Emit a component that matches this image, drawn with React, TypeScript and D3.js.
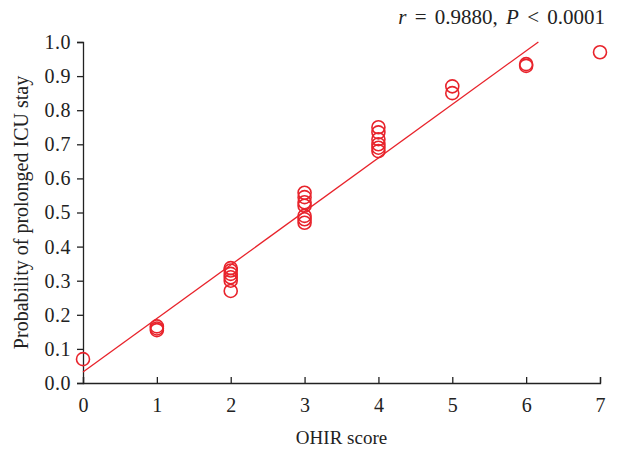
import { useEffect, useRef } from 'react'
import * as d3 from 'd3'

// OHIR score vs probability of prolonged ICU stay
const scores = [0, 1, 1, 1, 2, 2, 2, 2, 2, 2, 3, 3, 3, 3, 3, 3, 3, 4, 4, 4, 4, 4, 4, 5, 5, 6, 6, 7]
const probs = [
  0.07, 0.155, 0.16, 0.166, 0.27, 0.3, 0.31, 0.32, 0.33, 0.337, 0.47, 0.48, 0.49, 0.52, 0.53, 0.545,
  0.558, 0.68, 0.69, 0.7, 0.715, 0.735, 0.75, 0.85, 0.87, 0.93, 0.935, 0.97,
]
const fitIntercept = 0.032
const fitSlope = 0.157
const xTicks = [0, 1, 2, 3, 4, 5, 6, 7]
const yTicks = [0, 0.1, 0.2, 0.3, 0.4, 0.5, 0.6, 0.7, 0.8, 0.9, 1.0]

const RED = '#e8232b'
const FONT = '"Liberation Serif", "Times New Roman", serif'

export default function App() {
  const ref = useRef<SVGSVGElement | null>(null)

  useEffect(() => {
    document.body.style.margin = '0'
    if (!ref.current) return
    const width = 619
    const height = 450
    const margin = { top: 42, right: 19, bottom: 67, left: 83 }

    const svg = d3.select(ref.current)
    svg.selectAll('*').remove()

    const x = d3.scaleLinear().domain([0, 7]).range([margin.left, width - margin.right])
    const y = d3.scaleLinear().domain([0, 1]).range([height - margin.bottom, margin.top])

    // x axis, ticks pointing up into the plot
    const gx = svg
      .append('g')
      .attr('transform', `translate(0,${y(0)})`)
      .call(d3.axisBottom(x).tickValues(xTicks).tickSize(-6).tickPadding(15).tickFormat(d3.format('d')))
    gx.select('.domain').attr('stroke', '#222').attr('stroke-width', 1.3)
    gx.selectAll('.tick line').attr('stroke', '#222').attr('stroke-width', 1.3)
    gx.selectAll('text').style('font-family', FONT).style('font-size', '20px').attr('fill', '#222')

    // y axis, ticks pointing out
    const gy = svg
      .append('g')
      .attr('transform', `translate(${x(0)},0)`)
      .call(d3.axisLeft(y).tickValues(yTicks).tickSize(6).tickPadding(6).tickFormat(d3.format('.1f')))
    gy.select('.domain').attr('stroke', '#222').attr('stroke-width', 1.3)
    gy.selectAll('.tick line').attr('stroke', '#222').attr('stroke-width', 1.3)
    gy.selectAll('text')
      .style('font-family', FONT)
      .style('font-size', '20px')
      .style('letter-spacing', '0.5px')
      .attr('fill', '#222')

    // regression line, clipped at the top of the axis
    const xEnd = (1 - fitIntercept) / fitSlope
    svg
      .append('line')
      .attr('x1', x(0))
      .attr('y1', y(fitIntercept))
      .attr('x2', x(xEnd))
      .attr('y2', y(fitIntercept + fitSlope * xEnd))
      .attr('stroke', RED)
      .attr('stroke-width', 1.3)

    svg
      .append('g')
      .selectAll('circle')
      .data(scores.map((s, i) => ({ s, p: probs[i] })))
      .join('circle')
      .attr('cx', (d) => x(d.s))
      .attr('cy', (d) => y(d.p))
      .attr('r', 6.5)
      .attr('fill', 'none')
      .attr('stroke', RED)
      .attr('stroke-width', 1.6)

    svg
      .append('text')
      .attr('transform', `translate(28,${(y(0) + y(1)) / 2}) rotate(-90)`)
      .attr('text-anchor', 'middle')
      .style('font-family', FONT)
      .style('font-size', '20px')
      .attr('fill', '#222')
      .text('Probability of prolonged ICU stay')

    svg
      .append('text')
      .attr('x', (x(0) + x(7)) / 2)
      .attr('y', 444)
      .attr('text-anchor', 'middle')
      .style('font-family', FONT)
      .style('font-size', '19px')
      .attr('fill', '#222')
      .text('OHIR score')

    const note = svg
      .append('text')
      .attr('x', 605)
      .attr('y', 24)
      .attr('text-anchor', 'end')
      .style('font-family', FONT)
      .style('font-size', '21px')
      .style('word-spacing', '3px')
      .attr('fill', '#222')
    note.append('tspan').style('font-style', 'italic').text('r')
    note.append('tspan').text(' = 0.9880, ')
    note.append('tspan').style('font-style', 'italic').text('P')
    note.append('tspan').text(' < 0.0001')
  }, [])

  return <svg ref={ref} width={619} height={450} style={{ display: 'block', background: '#fff' }} />
}
